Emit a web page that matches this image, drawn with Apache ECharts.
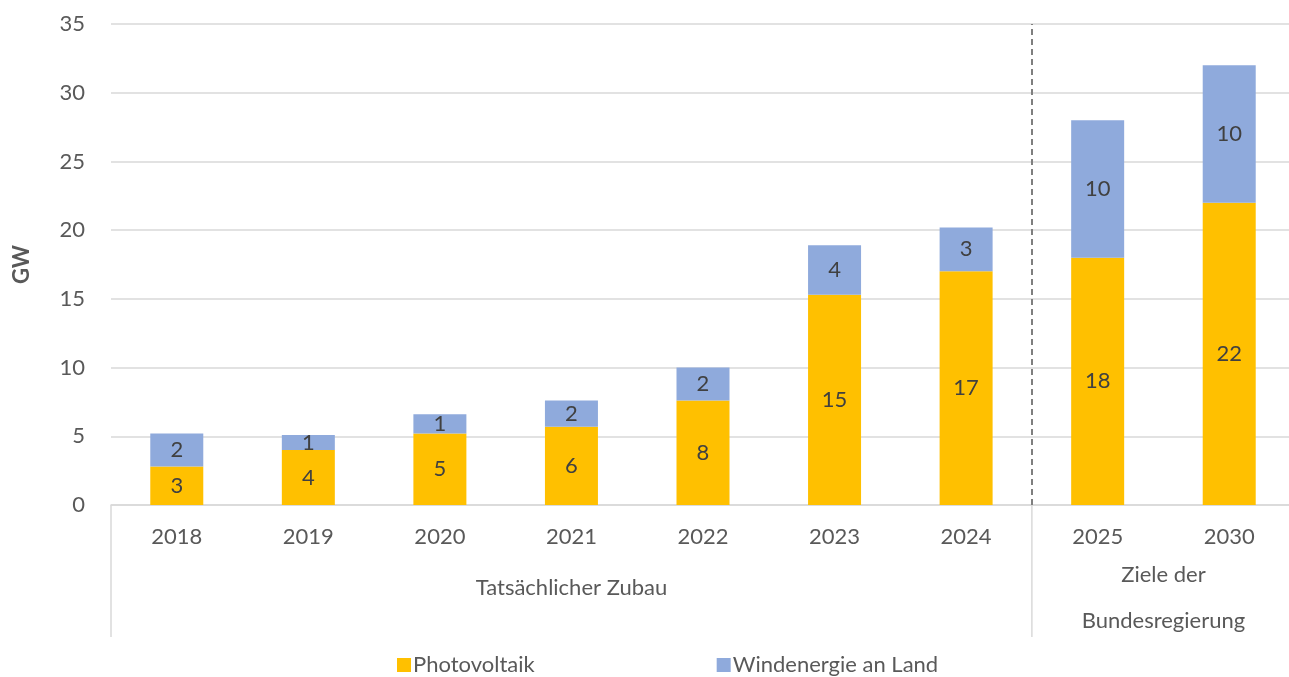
<!DOCTYPE html>
<html>
<head>
<meta charset="utf-8">
<script src="https://cdn.jsdelivr.net/npm/echarts@6/dist/echarts.min.js"></script>
<style>
html, body { margin: 0; padding: 0; background: #fff; overflow: hidden; }
#chart { width: 1295px; height: 677px; }
</style>
</head>
<body>
<div id="chart"></div>
<script>
// Werte (GW)
const years = ['2018', '2019', '2020', '2021', '2022', '2023', '2024', '2025', '2030'];
const photovoltaik = [2.8, 4.0, 5.2, 5.7, 7.6, 15.3, 17.0, 18.0, 22.0];
const windLand = [2.4, 1.1, 1.4, 1.9, 2.4, 3.6, 3.2, 10.0, 10.0];
const groupNames = ['Tatsächlicher Zubau', 'Ziele der\nBundesregierung'];
const groupBounds = [[0, 7], [7, 9]];
const yMin = 0, yMax = 35, yStep = 5;

const font = 'Lato, "Noto Sans", sans-serif';
const fs = 22;
const chart = echarts.init(document.getElementById('chart'));

function valueLabel(p) {
	return Math.round(p.value);
}

chart.setOption({
	animation: false,
	textStyle: { fontFamily: font },
	grid: { left: 111, right: 0, top: 24, bottom: 172 },
	legend: {
		left: 397,
		top: 654,
		padding: 0,
		itemWidth: 14,
		itemHeight: 14,
		itemGap: 182,
		icon: 'rect',
		textStyle: { fontSize: fs, color: '#595959', fontFamily: font, padding: [0, 0, 0, -3] },
		data: ['Photovoltaik', 'Windenergie an Land']
	},
	xAxis: [{
		type: 'category',
		data: years,
		axisLine: { lineStyle: { color: '#d9d9d9', width: 1.5 } },
		axisTick: { show: false },
		axisLabel: { fontSize: fs, color: '#595959', margin: 21, fontFamily: font }
	}, {
		// Hilfsachse für Trennlinien und Gruppenbeschriftung
		type: 'value',
		min: 0,
		max: years.length,
		show: false
	}],
	yAxis: {
		type: 'value',
		min: yMin,
		max: yMax,
		interval: yStep,
		name: 'GW',
		nameLocation: 'middle',
		nameGap: 78,
		nameTextStyle: { fontSize: 22, fontWeight: 'bold', color: '#595959', fontFamily: font },
		axisLine: { show: false },
		axisTick: { show: false },
		axisLabel: { fontSize: fs, color: '#595959', margin: 26, fontFamily: font },
		splitLine: { lineStyle: { color: '#d9d9d9', width: 1.5 } }
	},
	series: [{
		name: 'Photovoltaik',
		type: 'bar',
		stack: 'zubau',
		barWidth: 53,
		data: photovoltaik,
		itemStyle: { color: '#ffc000' },
		label: { show: true, position: 'inside', fontSize: fs, color: '#404040', fontFamily: font, formatter: valueLabel }
	}, {
		name: 'Windenergie an Land',
		type: 'bar',
		stack: 'zubau',
		barWidth: 53,
		data: windLand,
		itemStyle: { color: '#8faadc' },
		label: { show: true, position: 'inside', fontSize: fs, color: '#404040', fontFamily: font, formatter: valueLabel }
	}, {
		name: 'trenner',
		type: 'line',
		xAxisIndex: 1,
		data: [],
		markLine: {
			silent: true,
			symbol: 'none',
			label: { show: false },
			lineStyle: { color: '#7f7f7f', type: [6, 4], width: 2 },
			data: [{ xAxis: groupBounds[1][0] }]
		}
	}]
});

// Gruppenbeschriftung unter der Achse
const axisY = chart.convertToPixel({ yAxisIndex: 0 }, 0);
const graphics = [];
groupBounds.forEach((b, i) => {
	const x0 = chart.convertToPixel({ xAxisIndex: 1 }, b[0]);
	const x1 = chart.convertToPixel({ xAxisIndex: 1 }, b[1]);
	graphics.push({
		type: 'line',
		shape: { x1: x0, y1: axisY, x2: x0, y2: axisY + 132 },
		style: { stroke: '#d9d9d9', lineWidth: 1.5 }
	});
	const twoLines = groupNames[i].indexOf('\n') >= 0;
	graphics.push({
		type: 'text',
		x: (x0 + x1) / 2,
		y: twoLines ? axisY + 93 : axisY + 83,
		style: {
			text: groupNames[i],
			font: fs + 'px ' + font,
			fill: '#595959',
			align: 'center',
			verticalAlign: 'middle',
			lineHeight: 46
		}
	});
});
chart.setOption({ graphic: graphics });
</script>
</body>
</html>
